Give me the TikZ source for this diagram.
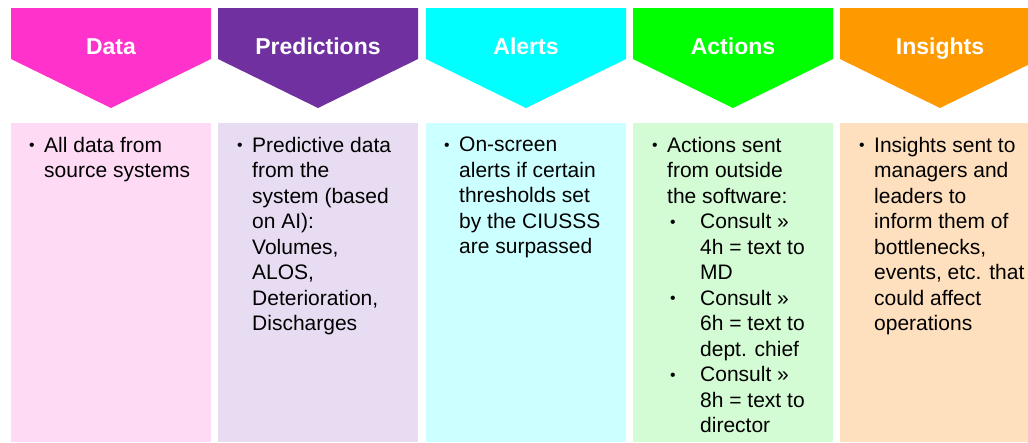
\documentclass[tikz,border=0pt]{standalone}
\usepackage{graphicx}
\usepackage{fontspec}
\setmainfont{Liberation Sans}

\definecolor{datadark}{HTML}{FF33CC}
\definecolor{datapale}{HTML}{FFDAF5}
\definecolor{preddark}{HTML}{7030A0}
\definecolor{predpale}{HTML}{E8DCF2}
\definecolor{alertdark}{HTML}{00FFFF}
\definecolor{alertpale}{HTML}{CCFFFF}
\definecolor{actdark}{HTML}{00FF00}
\definecolor{actpale}{HTML}{D4FCD4}
\definecolor{insdark}{HTML}{FF9900}
\definecolor{inspale}{HTML}{FFE0BE}

% small bullet with its hanging gap, and the indent of following lines
\newcommand{\dotmark}{\raisebox{1.5pt}{\scalebox{0.75}{\textbullet}}}
\newcommand{\bul}{\makebox[15pt][l]{\dotmark}}
\newcommand{\hang}{\hspace*{15pt}}
\newcommand{\subbul}{\hspace*{18pt}\makebox[30pt][l]{\dotmark}}
\newcommand{\subhang}{\hspace*{48pt}}

\tikzset{
  head/.style={anchor=base, text=white, font=\fontsize{23}{27}\selectfont\bfseries},
  panel/.style={anchor=north west, minimum width=200pt, minimum height=319pt,
    inner sep=0pt, draw=none},
  body/.style={anchor=north west, align=left, inner sep=0pt,
    font=\fontsize{21}{25.5}\selectfont}
}

\begin{document}
\begin{tikzpicture}[x=1pt, y=-1pt]
  \useasboundingbox (0,0) rectangle (1028,442);
  \clip (0,0) rectangle (1028,442);

  % chevron headers
  \fill[datadark]  (11,8) -- (211,8) -- (211,59) -- (111,108) -- (11,59) -- cycle;
  \fill[preddark]  (218,8) -- (418,8) -- (418,59) -- (318,108) -- (218,59) -- cycle;
  \fill[alertdark] (426,8) -- (626,8) -- (626,59) -- (526,108) -- (426,59) -- cycle;
  \fill[actdark]   (633,8) -- (833,8) -- (833,59) -- (733,108) -- (633,59) -- cycle;
  \fill[insdark]   (840,8) -- (1040,8) -- (1040,59) -- (940,108) -- (840,59) -- cycle;

  \node[head] (datahead)  at (111,54) {Data};
  \node[head] (predhead)  at (318,54) {Predictions};
  \node[head] (alerthead) at (526,54) {Alerts};
  \node[head] (acthead)   at (733,54) {Actions};
  \node[head] (inshead)   at (940,54) {Insights};

  % pale boxes under the headers
  \node[panel, fill=datapale]  (databox)  at (11,123) {};
  \node[panel, fill=predpale]  (predbox)  at (218,123) {};
  \node[panel, fill=alertpale] (alertbox) at (426,123) {};
  \node[panel, fill=actpale]   (actbox)   at (633,123) {};
  \node[panel, fill=inspale]   (insbox)   at (840,123) {};

  % bullet texts
  \node[body] (datatext) at (29,137)
    {\bul All data from\\ \hang source systems};
  \node[body] (predtext) at (237,137)
    {\bul Predictive data\\ \hang from the\\ \hang system (based\\
     \hang on AI):\\ \hang Volumes,\\ \hang ALOS,\\ \hang Deterioration,\\
     \hang Discharges};
  \node[body] (alerttext) at (444,137)
    {\bul On-screen\\ \hang alerts if certain\\ \hang thresholds set\\
     \hang by the CIUSSS\\ \hang are surpassed};
  \node[body] (acttext) at (652,137)
    {\bul Actions sent\\ \hang from outside\\ \hang the software:\\
     \subbul Consult »\\ \subhang 4h = text to\\ \subhang MD\\
     \subbul Consult »\\ \subhang 6h = text to\\ \subhang dept. chief\\
     \subbul Consult »\\ \subhang 8h = text to\\ \subhang director};
  \node[body] (instext) at (859,137)
    {\bul Insights sent to\\ \hang managers and\\ \hang leaders to\\
     \hang inform them of\\ \hang bottlenecks,\\ \hang events, etc. that\\
     \hang could affect\\ \hang operations};
\end{tikzpicture}
\end{document}
